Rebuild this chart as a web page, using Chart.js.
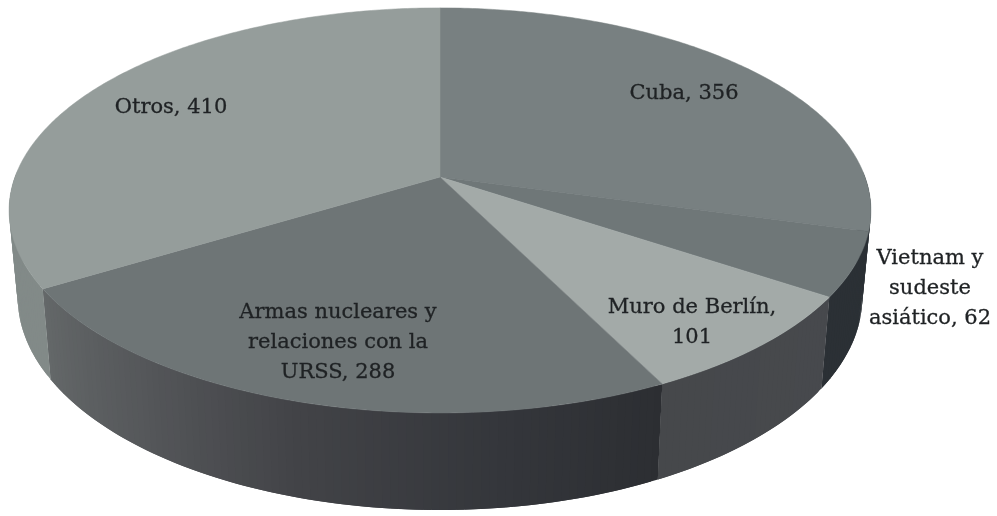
<!DOCTYPE html>
<html>
<head>
<meta charset="utf-8">
<style>
    html, body { margin: 0; padding: 0; background: #fff; }
    canvas { display: block; }
</style>
<script src="https://cdn.jsdelivr.net/npm/chart.js@4/dist/chart.umd.min.js"></script>
</head>
<body>
<canvas id="chart" width="997" height="516"></canvas>
<script>
const categories = ["Cuba", "Vietnam y sudeste asiático", "Muro de Berlín", "Armas nucleares y relaciones con la URSS", "Otros"]
const values = [356, 62, 101, 288, 410]
const labelLines = [
    ["Cuba, 356"],
    ["Vietnam y", "sudeste", "asiático, 62"],
    ["Muro de Berlín,", "101"],
    ["Armas nucleares y", "relaciones con la", "URSS, 288"],
    ["Otros, 410"]
]

const topColors = ["#788081", "#6f7778", "#a3aaa8", "#6e7576", "#959d9b"]
// wall colours along each slice, clockwise
const wallColors = [
    ["#2b3035", "#2b3035"],
    ["#2b3035", "#2b3035"],
    ["#47494d", "#46484b"],
    ["#2c2e32", "#35373c", "#424347", "#55575a", "#646869"],
    ["#828a88", "#828a88"]
]
const labelSpots = [[684, 94], [930, 289], [692, 323], [338, 343], [171, 108]]

// perspective of the tilted disc
const view = { cx: 440, cy: 177, a: 425, b: 197, p: 0.165, depth: 85, shrink: 0.98 }

function project(angle, lower) {
    const u = Math.cos(angle), v = Math.sin(angle)
    const w = 1 - view.p * v
    const x = view.a * u / w, y = view.b * v / w
    if (!lower) return [view.cx + x, view.cy + y]
    return [view.cx + x * view.shrink, view.cy + y * view.shrink + view.depth / w]
}

function hexToRgb(hex) {
    return [1, 3, 5].map(i => parseInt(hex.slice(i, i + 2), 16))
}

function shade(stops, f) {
    const pos = f * (stops.length - 1)
    const i = Math.min(Math.floor(pos), stops.length - 2)
    const c0 = hexToRgb(stops[i]), c1 = hexToRgb(stops[i + 1])
    const t = pos - i
    return `rgb(${c0.map((c, k) => Math.round(c + (c1[k] - c) * t)).join(",")})`
}

const disc3d = {
    id: "disc3d",
    beforeDatasetsDraw(chart) {
        const ctx = chart.ctx
        const arcs = chart.getDatasetMeta(0).data
        ctx.save()

        // side wall first, the top face covers whatever is behind it
        arcs.forEach((arc, i) => {
            const span = arc.endAngle - arc.startAngle
            const steps = Math.ceil(span * 60)
            for (let s = 0; s < steps; s++) {
                const a0 = arc.startAngle + span * s / steps
                // each strip runs under the next one so no seams show
                const a1 = arc.startAngle + span * Math.min(s + 2, steps) / steps
                if (Math.sin(a0) < 0 && Math.sin(a1) < 0) continue
                const quad = [project(a0), project(a1), project(a1, true), project(a0, true)]
                ctx.beginPath()
                quad.forEach(([x, y], k) => k ? ctx.lineTo(x, y) : ctx.moveTo(x, y))
                ctx.closePath()
                ctx.fillStyle = shade(wallColors[i], (s + 0.5) / steps)
                ctx.fill()
            }
        })

        arcs.forEach((arc, i) => {
            const span = arc.endAngle - arc.startAngle
            const steps = Math.ceil(span * 90)
            ctx.beginPath()
            ctx.moveTo(view.cx, view.cy)
            for (let s = 0; s <= steps; s++) {
                const [x, y] = project(arc.startAngle + span * s / steps)
                ctx.lineTo(x, y)
            }
            ctx.closePath()
            ctx.fillStyle = arc.options.backgroundColor
            ctx.strokeStyle = arc.options.backgroundColor
            ctx.lineWidth = 0.5
            ctx.fill()
            ctx.stroke()
        })

        ctx.fillStyle = "#1f2224"
        ctx.strokeStyle = "#1f2224"
        ctx.lineWidth = 0.3
        ctx.font = '21px "DejaVu Serif"'
        ctx.textAlign = "center"
        ctx.textBaseline = "middle"
        labelLines.forEach((lines, i) => {
            const [x, y] = labelSpots[i]
            lines.forEach((line, k) => {
                const ly = y + (k - (lines.length - 1) / 2) * 30
                ctx.fillText(line, x, ly)
                ctx.strokeText(line, x, ly)
            })
        })
        ctx.restore()
        return false
    }
}

new Chart("chart", {
    type: "pie",
    data: {
        labels: categories,
        datasets: [{
            data: values,
            backgroundColor: topColors,
            borderWidth: 0
        }]
    },
    options: {
        responsive: false,
        animation: false,
        plugins: {
            legend: { display: false },
            tooltip: { enabled: false }
        }
    },
    plugins: [disc3d]
})
</script>
</body>
</html>
